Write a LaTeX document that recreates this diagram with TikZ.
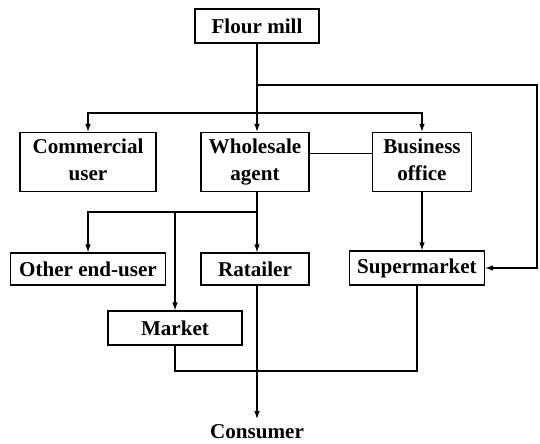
\documentclass[tikz,border=0pt]{standalone}
\usepackage{fontspec}
\setmainfont{Liberation Serif}
\usetikzlibrary{arrows.meta, positioning}

\begin{document}
\begin{tikzpicture}[
    x=0.025cm, y=-0.025cm,
    font=\bfseries\fontsize{15}{19}\selectfont,
    box/.style={draw, thick, minimum height=0.85cm, inner sep=2pt, align=center},
    tallbox/.style={box, minimum height=1.375cm},
    arrow/.style={thick, -{Latex[length=2mm, width=1.4mm]}},
    line/.style={thick}
]
\useasboundingbox (0,0) rectangle (540,443);

\node[box, minimum width=3.1cm] (mill) at (257,26) {Flour mill};
\node[tallbox, minimum width=3.4cm] (comm) at (88,162) {Commercial\strut\\user\strut};
\node[tallbox, minimum width=2.7cm] (whole) at (255,162) {Wholesale\strut\\agent\strut};
\node[tallbox, minimum width=2.475cm] (office) at (422,162) {Business\strut\\office\strut};
\node[box, minimum width=3.875cm, minimum height=0.8cm] (other) at (88,269) {Other end-user};
\node[box, minimum width=2.7cm, minimum height=0.8cm] (ret) at (255,269) {Ratailer};
\node[box, minimum width=3.375cm] (super) at (417,268) {Supermarket};
\node[box, minimum width=3.35cm] (market) at (175,328) {Market};
\node[anchor=base] (cons) at (257,438) {Consumer};

\coordinate (split) at (257,85);
\coordinate (east) at (537,85);
\coordinate (fork) at (257,113);
\coordinate (wfork) at (257,212);
\coordinate (bottom) at (0,371);

\draw[line] (mill.south) -- (fork);
\draw[arrow] (split) -- (east) |- (super.east);
\draw[arrow] (fork) -| (comm.north);
\draw[arrow] (fork) -- (fork |- whole.north);
\draw[arrow] (fork) -| (office.north);
\draw[line] ([yshift=0.22cm]whole.east) -- ([yshift=0.22cm]office.west);

\draw[line] (fork |- whole.south) -- (wfork);
\draw[arrow] (wfork) -| (other.north);
\draw[arrow] (wfork) -- (wfork |- ret.north);
\draw[arrow] (market.north |- wfork) -- (market.north);
\draw[arrow] (office.south) -- (office.south |- super.north);

\draw[line] (market.south) |- (bottom -| super.south) -- (super.south);
\draw[arrow] (wfork |- ret.south) -- (cons.north);

\end{tikzpicture}
\end{document}
